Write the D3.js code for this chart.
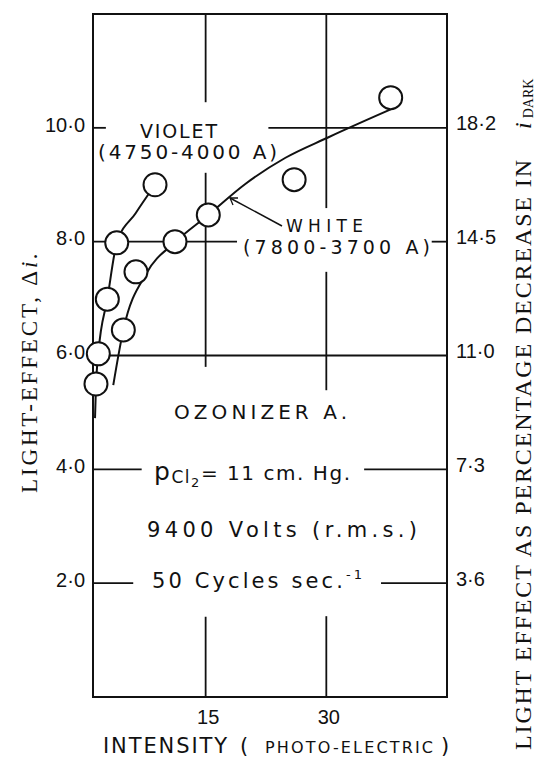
<!DOCTYPE html>
<html>
<head>
<meta charset="utf-8">
<script src="https://cdn.jsdelivr.net/npm/d3@7"></script>
<style>
  body { margin: 0; background: #fff; }
  svg { display: block; }
  text { font-family: "DejaVu Sans", sans-serif; fill: #111; }
</style>
</head>
<body>
<div id="chart"></div>
<script>
// Light effect vs intensity, ozonizer A
// values

// measured points
var violetX = [1.37, 1.66, 2.78, 3.95, 8.71];
var violetY = [5.50, 6.03, 6.99, 7.98, 9.00];
var whiteX = [4.77, 6.34, 11.19, 15.33, 26.0, 38.0];
var whiteY = [6.45, 7.47, 8.00, 8.47, 9.09, 10.53];

// hand drawn curves through them
var violetCurveX = [1.25, 1.37, 1.66, 2.78, 3.95, 6.3, 8.71];
var violetCurveY = [4.90, 5.46, 6.03, 6.99, 7.97, 8.5, 9.00];
var whiteCurveX = [3.52, 4.77, 7.67, 11.19, 15.33, 19.89, 24.87, 30.21, 38.92];
var whiteCurveY = [5.48, 6.45, 7.45, 7.99, 8.47, 9.01, 9.47, 9.83, 10.38];

// ticks
var xTicks = [15, 30];
var yTicks = [2, 4, 6, 8, 10];
var yTickLabels = ["2·0", "4·0", "6·0", "8·0", "10·0"];
var pctTickLabels = ["3·6", "7·3", "11·0", "14·5", "18·2"];

// grid lines are broken where the lettering sits
var hGridY = [10, 8, 6, 4, 2];
var hGridRuns = [[[1, 2.6], [22.8, 45]], [[1, 18.9], [43.1, 45]], [[1, 45]], [[1, 7.05], [34.7, 45]], [[1, 6.0], [36.8, 45]]];
var vGridX = [15, 30];
var vGridRuns = [[[12, 10.45], [9.21, 5.8], [1.41, 0]], [[12, 8.59], [7.47, 5.39], [1.42, 0]]];

var width = 535, height = 758;

var svg = d3.select("#chart").append("svg")
  .attr("width", width)
  .attr("height", height);

var x = d3.scaleLinear().domain([1, 45]).range([93, 447]);
var y = d3.scaleLinear().domain([0, 12]).range([697, 14]);

var ink = "#111";

// grid
hGridY.forEach(function(v, i) {
  hGridRuns[i].forEach(function(r) {
    svg.append("line")
      .attr("x1", x(r[0])).attr("x2", x(r[1]))
      .attr("y1", y(v)).attr("y2", y(v))
      .style("stroke", ink).style("stroke-width", 1.8);
  });
});
vGridX.forEach(function(v, i) {
  vGridRuns[i].forEach(function(r) {
    svg.append("line")
      .attr("x1", x(v)).attr("x2", x(v))
      .attr("y1", y(r[0])).attr("y2", y(r[1]))
      .style("stroke", ink).style("stroke-width", 1.8);
  });
});

// frame
svg.append("rect")
  .attr("x", x(1)).attr("y", y(12))
  .attr("width", x(45) - x(1)).attr("height", y(0) - y(12))
  .style("fill", "none").style("stroke", ink).style("stroke-width", 2);

// axes (labels only)
var gLeft = svg.append("g")
  .attr("transform", "translate(" + x(1) + ",0)")
  .call(d3.axisLeft(y).tickValues(yTicks).tickSize(0).tickPadding(8)
    .tickFormat(function(d, i) { return yTickLabels[i]; }));
var gRight = svg.append("g")
  .attr("transform", "translate(" + x(45) + ",0)")
  .call(d3.axisRight(y).tickValues(yTicks).tickSize(0).tickPadding(9)
    .tickFormat(function(d, i) { return pctTickLabels[i]; }));
var gBottom = svg.append("g")
  .attr("transform", "translate(0," + y(0) + ")")
  .call(d3.axisBottom(x).tickValues(xTicks).tickSize(0).tickPadding(13));

[gLeft, gRight, gBottom].forEach(function(g) {
  g.select(".domain").remove();
  g.selectAll("text")
    .style("font-family", "Liberation Sans, sans-serif")
    .style("font-size", "20px")
    .style("fill", ink);
});
gLeft.selectAll("text").attr("dy", "0.16em");
gRight.selectAll("text").attr("dy", "0.1em");
gBottom.selectAll("text").attr("dx", 2);

// curves
var line = d3.line()
  .x(function(d) { return x(d[0]); })
  .y(function(d) { return y(d[1]); })
  .curve(d3.curveMonotoneX);

svg.append("path")
  .datum(d3.zip(violetCurveX, violetCurveY))
  .attr("d", line)
  .style("fill", "none").style("stroke", ink).style("stroke-width", 2);
svg.append("path")
  .datum(d3.zip(whiteCurveX, whiteCurveY))
  .attr("d", line)
  .style("fill", "none").style("stroke", ink).style("stroke-width", 2);

// points
var pts = d3.zip(violetX, violetY).concat(d3.zip(whiteX, whiteY));
svg.selectAll(".pt")
  .data(pts)
  .enter().append("circle")
  .attr("class", "pt")
  .attr("cx", function(d) { return x(d[0]); })
  .attr("cy", function(d) { return y(d[1]); })
  .attr("r", 11.5)
  .style("fill", "#fff").style("stroke", ink).style("stroke-width", 2);

// lettering
function label(txt, x0, y0, len, size) {
  return svg.append("text")
    .attr("x", x0).attr("y", y0)
    .attr("textLength", len).attr("lengthAdjust", "spacing")
    .style("font-size", size + "px")
    .text(txt);
}

label("VIOLET", 140, 138, 77, 19);
label("(4750-4000 A)", 98, 159, 179, 20);
label("WHITE", 286, 232, 77, 17);
label("(7800-3700 A)", 243, 254, 187, 19);

// arrow to white curve
svg.append("line")
  .attr("x1", 282).attr("y1", 226).attr("x2", 230).attr("y2", 198)
  .style("stroke", ink).style("stroke-width", 1.5);
svg.append("path")
  .attr("d", "M238,198 L230,198 L233,205")
  .style("fill", "none").style("stroke", ink).style("stroke-width", 1.3);

label("OZONIZER A.", 174, 419, 173, 20);

var p = svg.append("text").attr("x", 154).attr("y", 480)
  .attr("textLength", 196).attr("lengthAdjust", "spacing")
  .style("font-size", "25px");
p.append("tspan").text("p");
p.append("tspan").attr("dy", 3).style("font-size", "17px").text("Cl");
p.append("tspan").attr("dy", 4).style("font-size", "13px").text("2");
p.append("tspan").attr("dy", -7).style("font-size", "20px").text("= 11 cm. Hg.");

label("9400  Volts  (r.m.s.)", 147, 537, 270, 21);

var c = svg.append("text").attr("x", 152).attr("y", 588)
  .attr("textLength", 210).attr("lengthAdjust", "spacing")
  .style("font-size", "21px");
c.append("tspan").text("50  Cycles  sec.");
c.append("tspan").attr("dy", -9).style("font-size", "13px").text("-1");

// x title
label("INTENSITY", 103, 753, 124, 21);
label("(", 240, 753, 8, 21);
label("PHOTO-ELECTRIC", 265, 753, 168, 16);
label(")", 441, 753, 8, 21);

// axis titles
var lt = svg.append("text")
  .attr("transform", "translate(37,493) rotate(-90)")
  .attr("textLength", 240).attr("lengthAdjust", "spacing")
  .style("font-family", "Liberation Serif, serif")
  .style("font-size", "23px");
lt.append("tspan").text("LIGHT-EFFECT, Δ");
lt.append("tspan").style("font-style", "italic").text("i.");

svg.append("text")
  .attr("transform", "translate(531,750) rotate(-90)")
  .attr("textLength", 590).attr("lengthAdjust", "spacing")
  .style("font-family", "Liberation Serif, serif")
  .style("font-size", "24px")
  .text("LIGHT EFFECT AS  PERCENTAGE  DECREASE  IN");

var rt = svg.append("text")
  .attr("transform", "translate(531,129) rotate(-90)")
  .style("font-family", "Liberation Serif, serif")
  .style("font-size", "24px");
rt.append("tspan").style("font-style", "italic").text("i");
rt.append("tspan").attr("dx", 4).attr("dy", 2).style("font-size", "14px").text("DARK");
</script>
</body>
</html>
